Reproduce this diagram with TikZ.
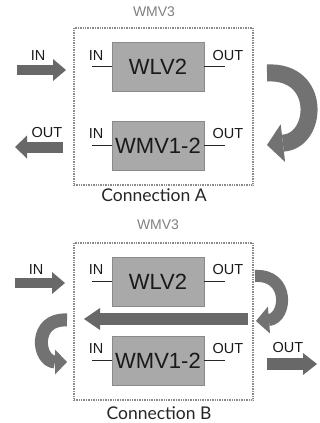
\documentclass[tikz,border=0pt]{standalone}
\usepackage{fontspec}
\setmainfont{Liberation Sans}
\newfontfamily\capfont{Lato}
\usetikzlibrary{arrows.meta}
\usetikzlibrary{positioning}
\definecolor{flowgray}{HTML}{686868}
\definecolor{curlgray}{HTML}{727272}
\definecolor{unitgray}{HTML}{A9A9A9}
\definecolor{edgegray}{HTML}{8A8A8A}

\begin{document}
\begin{tikzpicture}[x=1pt,y=-1pt,
  frame/.style={draw=edgegray, line width=1.6pt, dash pattern=on 1pt off 0.7pt,
    minimum width=179pt, minimum height=157pt, inner sep=0pt},
  unit/.style={draw=edgegray, fill=unitgray, minimum width=92pt, minimum height=49pt,
    inner sep=0pt, text=black!90, font=\fontsize{22}{22}\selectfont},
  port/.style={inner sep=0pt, text=black!90, font=\fontsize{14.5}{14.5}\selectfont},
  title/.style={inner sep=0pt, text=black!50, font=\fontsize{14}{14}\selectfont},
  caption/.style={inner sep=0pt, text=black!85, font=\capfont\fontsize{17.5}{17.5}\selectfont},
  stub/.style={line width=1.2pt, black!85},
  flow/.style={draw=flowgray},
  curl/.style={draw=curlgray, line join=round}
]
\useasboundingbox (0,0) rectangle (320,423);

\node[title] (titleA) at (154,12) {WMV3};
\node[frame] (frameA) at (163.5,106.5) {};
\node[unit] (wlvA) at (158,66.5) {WLV2};
\node[unit] (wmvA) at (158,145.5) {WMV1-2};
\draw[stub] (wlvA.west) -- ++(-20,0);
\draw[stub] (wlvA.east) -- ++(21,0);
\draw[stub] (wmvA.west) -- ++(-20,0);
\draw[stub] (wmvA.east) -- ++(21,0);
\node[port] (wlvA-in) at (96,56) {IN};
\node[port] (wlvA-out) at (228,56) {OUT};
\node[port] (wmvA-in) at (96,134) {IN};
\node[port] (wmvA-out) at (228,134) {OUT};

\coordinate (inA-s) at (17,70);
\coordinate (inA-e) at (66,70);
\coordinate (outA-s) at (63,147);
\coordinate (outA-e) at (15,147);
\coordinate (curlA-s) at (267,73);
\coordinate (curlA-e) at (267,145);
\node[port] (inA) at (38,56) {IN};
\node[port] (outA) at (47,133) {OUT};
\draw[flow, line width=10pt, -{Triangle[length=13pt,width=22pt,line width=0pt]}] (inA-s) -- (inA-e);
\draw[flow, line width=11pt, -{Triangle[length=12pt,width=23pt,line width=0pt]}] (outA-s) -- (outA-e);
\draw[curl, line width=17pt, -{Triangle[length=16pt,width=38pt,line width=0pt]}]
  (curlA-s) .. controls (322,70) and (318,140) .. (284,143) -- (curlA-e);
\node[caption] (capA) at (154,195) {Connection A};

\node[title] (titleB) at (158,225) {WMV3};
\node[frame] (frameB) at (163.5,321.5) {};
\node[unit] (wlvB) at (158,281.5) {WLV2};
\node[unit] (wmvB) at (158,360.5) {WMV1-2};
\draw[stub] (wlvB.west) -- ++(-20,0);
\draw[stub] (wlvB.east) -- ++(21,0);
\draw[stub] (wmvB.west) -- ++(-20,0);
\draw[stub] (wmvB.east) -- ++(21,0);
\node[port] (wlvB-in) at (96,270) {IN};
\node[port] (wlvB-out) at (228,270) {OUT};
\node[port] (wmvB-in) at (96,349) {IN};
\node[port] (wmvB-out) at (228,349) {OUT};

\coordinate (inB-s) at (15,283);
\coordinate (inB-e) at (65,283);
\coordinate (backB-s) at (248,319);
\coordinate (backB-e) at (84,319);
\coordinate (outB-s) at (267,364);
\coordinate (outB-e) at (317,364);
\coordinate (curlB1-s) at (255,276);
\coordinate (curlB1-e) at (256,321);
\coordinate (curlB2-s) at (67,320);
\coordinate (curlB2-e) at (67,362);
\node[port] (inB) at (36,270) {IN};
\node[port] (outB) at (288,348) {OUT};
\draw[flow, line width=10pt, -{Triangle[length=13pt,width=22pt,line width=0pt]}] (inB-s) -- (inB-e);
\draw[flow, line width=12pt, -{Triangle[length=16pt,width=22pt,line width=0pt]}] (backB-s) -- (backB-e);
\draw[flow, line width=12pt, -{Triangle[length=14pt,width=22pt,line width=0pt]}] (outB-s) -- (outB-e);
\draw[curl, line width=12pt, -{Triangle[length=13pt,width=27pt,line width=0pt]}]
  (curlB1-s) .. controls (290,274) and (287,318) .. (269,320) -- (curlB1-e);
\draw[curl, line width=13pt, -{Triangle[length=12pt,width=25pt,line width=0pt]}]
  (curlB2-s) .. controls (33,318) and (37,361) .. (55,362) -- (curlB2-e);
\node[caption] (capB) at (159,413) {Connection B};
\end{tikzpicture}
\end{document}
